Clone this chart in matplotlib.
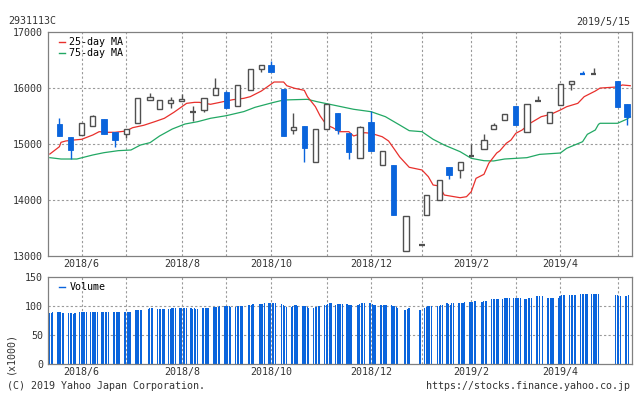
import matplotlib
matplotlib.use("Agg")
import matplotlib.pyplot as plt
import matplotlib.dates as mdates
import numpy as np
import pandas as pd
from matplotlib.lines import Line2D

# ---------------- data ----------------
title_code = "2931113C"
title_date = "2019/5/15"

candle_dates = ["2018-05-21", "2018-05-28", "2018-06-04", "2018-06-11", "2018-06-18", "2018-06-25",
                "2018-07-02", "2018-07-09", "2018-07-17", "2018-07-23", "2018-07-30", "2018-08-06",
                "2018-08-13", "2018-08-20", "2018-08-27", "2018-09-03", "2018-09-10", "2018-09-18",
                "2018-09-25", "2018-10-01", "2018-10-09", "2018-10-15", "2018-10-22", "2018-10-29",
                "2018-11-05", "2018-11-12", "2018-11-19", "2018-11-26", "2018-12-03", "2018-12-10",
                "2018-12-17", "2018-12-25", "2019-01-04", "2019-01-07", "2019-01-15", "2019-01-21",
                "2019-01-28", "2019-02-04", "2019-02-12", "2019-02-18", "2019-02-25", "2019-03-04",
                "2019-03-11", "2019-03-18", "2019-03-25", "2019-04-01", "2019-04-08", "2019-04-15",
                "2019-04-22", "2019-05-07", "2019-05-13"]
opens = [15353, 15121, 15146, 15313, 15437, 15205, 15175, 15361, 15771, 15611, 15717, 15753,
         15565, 15593, 15860, 15914, 15664, 15950, 16330, 16402, 15973, 15236, 15313, 14664,
         15254, 15545, 15188, 14747, 15384, 14622, 14622, 13086, 13187, 13718, 13986, 14580,
         14532, 14780, 14896, 15254, 15414, 15670, 15200, 15762, 15361, 15682, 16057, 16244,
         16247, 16116, 15705]
highs = [15461, 15121, 15361, 15509, 15437, 15205, 15254, 15813, 15902, 15771, 15825, 15879,
         15670, 15807, 16170, 15943, 16039, 16330, 16396, 16473, 15973, 15539, 15313, 15254,
         15700, 15545, 15188, 15313, 15575, 14866, 14622, 13711, 13187, 14075, 14348, 14580,
         14664, 14991, 15170, 15366, 15521, 15670, 15700, 15843, 15557, 16057, 16110, 16289,
         16348, 16116, 15705]
lows = [15130, 14723, 15146, 15313, 15175, 14943, 15104, 15361, 15771, 15611, 15640, 15753,
        15407, 15568, 15860, 15640, 15664, 15950, 16282, 16282, 15128, 15175, 14675, 14664,
        15254, 15164, 14723, 14747, 14872, 14622, 13723, 13086, 13187, 13718, 13986, 14366,
        14389, 14780, 14896, 15254, 15414, 15336, 15200, 15762, 15361, 15682, 15961, 16238,
        16247, 15657, 15336]
closes = [15130, 14889, 15361, 15491, 15175, 15057, 15254, 15813, 15825, 15771, 15777, 15795,
          15570, 15807, 15991, 15640, 16039, 16330, 16396, 16282, 15128, 15289, 14925, 15254,
          15700, 15247, 14854, 15295, 14872, 14866, 13723, 13711, 13187, 14075, 14348, 14437,
          14664, 14786, 15057, 15325, 15521, 15336, 15700, 15768, 15557, 16057, 16110, 16238,
          16252, 15657, 15479]

market_holidays = ["2018-07-16", "2018-09-17", "2018-09-24", "2018-10-08", "2018-11-23",
                   "2018-12-24", "2018-12-31", "2019-01-01", "2019-01-02", "2019-01-03",
                   "2019-01-14", "2019-02-11", "2019-03-21", "2019-04-29", "2019-04-30",
                   "2019-05-01", "2019-05-02", "2019-05-03", "2019-05-06"]

volume = [
    88, 89, 90,
    90, 90, 90, 89, 88,
    88, 88, 88, 87, 89,
    90, 90, 91, 91, 91,
    91, 91, 91, 91, 91,
    91, 91, 91, 91, 90,
    91, 90, 90, 90, 90,
    91, 91, 91, 91, 91,
    93, 94, 94, 94, 94,
    96, 97, 97, 97,
    95, 95, 95, 95, 96,
    96, 96, 97, 97, 97,
    97, 97, 97, 97, 97,
    97, 96, 97, 96, 96,
    97, 97, 97, 97, 97,
    99, 99, 99, 99, 101,
    100, 100, 100, 100, 99,
    99, 100, 100, 101, 101,
    102, 103, 103, 104,
    104, 104, 104, 105,
    106, 106, 106, 106, 106,
    104, 103, 101, 99,
    99, 100, 102, 102, 100,
    100, 100, 100, 99, 97,
    97, 99, 99, 100, 101,
    103, 103, 104, 105, 105,
    103, 104, 104, 104, 104,
    104, 102, 102, 102,
    102, 104, 105, 105, 105,
    106, 105, 104, 103, 103,
    102, 102, 102, 103, 103,
    102, 101, 100, 99, 97,
    93, 94, 95, 97,
    93,
    97, 99, 100, 100, 100,
    100, 100, 102, 103,
    105, 104, 103, 105, 105,
    105, 105, 105, 105, 107,
    107, 107, 108, 109, 109,
    108, 109, 110, 110,
    112, 112, 112, 112, 112,
    113, 114, 114, 114, 114,
    115, 115, 114, 114, 114,
    112, 113, 114, 115, 115,
    117, 117, 117, 117,
    114, 115, 115, 115, 115,
    115, 117, 119, 119, 119,
    119, 119, 119, 119, 119,
    121, 121, 121, 121, 121,
    121, 121, 121, 121, 121,
    119, 119, 118, 117,
    117, 117, 119,
]

ma25_dates = ["2018-05-15", "2018-05-21", "2018-05-22", "2018-05-25", "2018-05-30", "2018-06-04",
              "2018-06-11", "2018-06-15", "2018-06-20", "2018-06-25", "2018-07-02", "2018-07-06",
              "2018-07-13", "2018-07-20", "2018-07-26", "2018-08-01", "2018-08-06", "2018-08-09",
              "2018-08-14", "2018-08-17", "2018-08-24", "2018-08-29", "2018-09-03", "2018-09-07",
              "2018-09-14", "2018-09-18", "2018-09-25", "2018-10-01", "2018-10-03", "2018-10-09",
              "2018-10-11", "2018-10-16", "2018-10-22", "2018-10-24", "2018-10-29", "2018-11-01",
              "2018-11-05", "2018-11-09", "2018-11-13", "2018-11-19", "2018-11-22", "2018-11-29",
              "2018-12-03", "2018-12-10", "2018-12-14", "2018-12-18", "2018-12-21", "2018-12-27",
              "2019-01-04", "2019-01-08", "2019-01-11", "2019-01-15", "2019-01-18", "2019-01-28",
              "2019-02-01", "2019-02-04", "2019-02-07", "2019-02-12", "2019-02-15", "2019-02-20",
              "2019-02-22", "2019-02-26", "2019-03-01", "2019-03-04", "2019-03-08", "2019-03-13",
              "2019-03-20", "2019-03-26", "2019-04-01", "2019-04-05", "2019-04-12", "2019-04-16",
              "2019-04-23", "2019-04-26", "2019-05-07", "2019-05-10", "2019-05-15"]
ma25_values = [14812, 14943, 15021, 15045, 15062, 15075,
               15152, 15211, 15200, 15200, 15223, 15282,
               15325, 15390, 15450, 15557, 15657, 15717,
               15735, 15735, 15700, 15729, 15759, 15782,
               15807, 15836, 15937, 16057, 16098, 16098,
               16032, 15985, 15950, 15836, 15657, 15491,
               15330, 15282, 15211, 15211, 15134, 15193,
               15182, 15121, 15045, 14884, 14760, 14575,
               14527, 14408, 14259, 14241, 14080, 14032,
               14050, 14140, 14378, 14450, 14646, 14830,
               14870, 15003, 15062, 15182, 15241, 15361,
               15479, 15521, 15598, 15657, 15717, 15836,
               15937, 15990, 16010, 16045, 16032]

ma75_dates = ["2018-05-15", "2018-05-22", "2018-06-01", "2018-06-11", "2018-06-18", "2018-06-27",
              "2018-07-05", "2018-07-11", "2018-07-17", "2018-07-23", "2018-07-31", "2018-08-08",
              "2018-08-16", "2018-08-24", "2018-09-03", "2018-09-14", "2018-09-21", "2018-10-02",
              "2018-10-09", "2018-10-24", "2018-10-30", "2018-11-07", "2018-11-22", "2018-12-03",
              "2018-12-12", "2018-12-21", "2018-12-27", "2019-01-04", "2019-01-11", "2019-01-18",
              "2019-01-28", "2019-02-04", "2019-02-12", "2019-02-18", "2019-02-25", "2019-03-11",
              "2019-03-19", "2019-04-01", "2019-04-05", "2019-04-15", "2019-04-18", "2019-04-23",
              "2019-04-25", "2019-04-26", "2019-05-07", "2019-05-13", "2019-05-15"]
ma75_values = [14747, 14723, 14723, 14795, 14836, 14872,
               14884, 14973, 15015, 15134, 15259, 15348,
               15390, 15450, 15497, 15570, 15646, 15729,
               15777, 15789, 15747, 15700, 15611, 15568,
               15479, 15330, 15229, 15211, 15075, 14973,
               14854, 14735, 14693, 14688, 14723, 14747,
               14806, 14830, 14914, 15032, 15164, 15241,
               15342, 15361, 15361, 15437, 15479]

price_ticks = [13000, 14000, 15000, 16000, 17000]
volume_ticks = [0, 50, 100, 150]

# ---------------- style ----------------
BLUE = "#0a64dc"
RED = "#e8302c"
GREEN = "#22a864"
DARK = "#505050"
TXT = "#333333"
GRID = "#9a9a9a"
SPINE = "#808080"
FONT = "DejaVu Sans Mono"
FS = 7.2

plt.rcParams["font.family"] = [FONT]

W, H = 634, 394
fig = plt.figure(figsize=(W / 100, H / 100), dpi=100)


def px_axes(l, t, r, b):
    return fig.add_axes([l / W, 1 - b / H, (r - l) / W, (b - t) / H])


ax = px_axes(48, 31.5, 632, 255.5)
axv = px_axes(48, 277.3, 632, 364.3)

xlim = (mdates.date2num(pd.Timestamp("2018-05-13 20:00")),
        mdates.date2num(pd.Timestamp("2019-05-16 02:00")))

cx = mdates.date2num(pd.to_datetime(candle_dates))
o = np.array(opens, float)
h = np.array(highs, float)
l = np.array(lows, float)
c = np.array(closes, float)

# month grid positions: first candle of each month
cd = pd.to_datetime(candle_dates)
month_first = []
seen = set()
for d in cd:
    key = (d.year, d.month)
    if key not in seen:
        seen.add(key)
        month_first.append(d)
month_first = [d for d in month_first if d >= pd.Timestamp("2018-06-01")]
mx = mdates.date2num(month_first)
mlabels = [f"{d.year}/{d.month}" if i % 2 == 0 else "" for i, d in enumerate(month_first)]

dash = (0, (2, 2))
for a in (ax, axv):
    for x in mx:
        a.axvline(x, color=GRID, lw=0.8, ls=dash, zorder=0)
for y in price_ticks[1:-1]:
    ax.axhline(y, color=GRID, lw=0.8, ls=dash, zorder=0)
for y in volume_ticks[1:-1]:
    axv.axhline(y, color=GRID, lw=0.8, ls=dash, zorder=0)

# MA lines
ax.plot(mdates.date2num(pd.to_datetime(ma75_dates)), ma75_values, color=GREEN, lw=0.9, zorder=2)
ax.plot(mdates.date2num(pd.to_datetime(ma25_dates)), ma25_values, color=RED, lw=0.9, zorder=2)

# candles
cw = 3.3
for xi, oi, hi, li, ci in zip(cx, o, h, l, c):
    down = ci < oi
    col = BLUE if down else DARK
    ax.vlines(xi, li, hi, color=col, lw=1.0, zorder=3)
    if abs(ci - oi) < 20:
        ax.hlines((oi + ci) / 2, xi - cw / 2, xi + cw / 2, color=col, lw=1.6, zorder=4)
    elif down:
        ax.bar(xi, oi - ci, bottom=ci, width=cw, color=BLUE, edgecolor=BLUE, lw=0.6, zorder=4)
    else:
        ax.bar(xi, ci - oi, bottom=oi, width=cw, facecolor="white", edgecolor=DARK, lw=1.0, zorder=4)

# volume
trade_days = pd.bdate_range("2018-05-16", "2019-05-15")
trade_days = trade_days[~trade_days.isin(pd.to_datetime(market_holidays))]
assert len(trade_days) == len(volume), (len(trade_days), len(volume))
vx = mdates.date2num(trade_days) - 1.2
axv.bar(vx, volume, width=0.75, color=BLUE, lw=0, antialiased=False, zorder=2)

# axes formatting
for a in (ax, axv):
    a.set_xlim(*xlim)
    a.set_xticks(mx)
    a.set_xticklabels(mlabels)
    for s in a.spines.values():
        s.set_color(SPINE)
        s.set_linewidth(0.9)
    a.tick_params(length=0, labelsize=FS, colors=TXT)
    a.tick_params(axis="y", pad=3.4)
ax.tick_params(axis="x", pad=2.6)
axv.tick_params(axis="x", pad=2.0)

ax.set_ylim(13000, 17000)
ax.set_yticks(price_ticks)
axv.set_ylim(0, 150)
axv.set_yticks(volume_ticks)

# legends
def legend_entry(a, yfrac, color, label):
    a.add_line(Line2D([0.019, 0.029], [yfrac, yfrac], transform=a.transAxes, color=color, lw=1.0))
    a.text(0.0365, yfrac, label, transform=a.transAxes, ha="left", va="center",
           fontsize=FS, color="black")

legend_entry(ax, 0.9545, RED, "25-day MA")
legend_entry(ax, 0.9027, GREEN, "75-day MA")
legend_entry(axv, 0.892, BLUE, "Volume")

# texts
fig.text(8 / W, 1 - 21.5 / H, title_code, ha="left", va="center", fontsize=FS, color=TXT)
fig.text(630 / W, 1 - 21.5 / H, title_date, ha="right", va="center", fontsize=FS, color=TXT)
fig.text(7 / W, 1 - 386 / H, "(C) 2019 Yahoo Japan Corporation.", ha="left", va="center",
         fontsize=FS, color=TXT)
fig.text(630 / W, 1 - 386 / H, "https://stocks.finance.yahoo.co.jp", ha="right", va="center",
         fontsize=FS, color=TXT)
fig.text(10 / W, 1 - 353.5 / H, "(x1000)", rotation=90, ha="center", va="center",
         fontsize=FS, color=TXT)

fig.savefig("out.png", dpi=100)
